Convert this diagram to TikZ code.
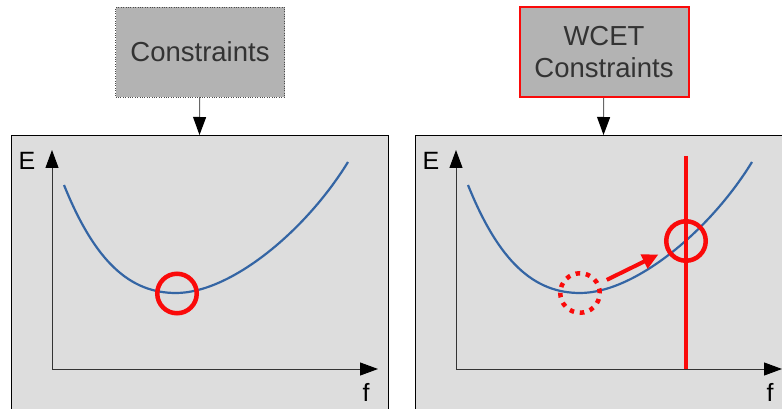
\documentclass[tikz,border=0pt]{standalone}
\usepackage{fontspec}
\setmainfont{Liberation Sans}
\usetikzlibrary{arrows.meta,positioning}

\begin{document}
\begin{tikzpicture}[x=1pt,y=-1pt,
    box/.style={fill=boxfill,minimum width=169pt,minimum height=90pt,align=center,text=boxtext,font=\fontsize{27.5}{32}\selectfont,inner sep=0pt},
    panel/.style={draw=black,fill=panelfill,minimum width=377pt,minimum height=300pt,anchor=north,inner sep=0pt},
    feed/.style={draw=black!60,line width=1pt,-{Triangle[length=18pt,width=13pt,color=black]}},
    axis/.style={draw=black!80,line width=1pt,-{Triangle[length=18pt,width=13pt,color=black]}},
    curve/.style={draw=curveblue,line width=2.2pt},
    hit/.style={draw=hitred,line width=4.5pt},
    optc/.style={circle,hit,minimum size=39.5pt,inner sep=0pt,outer sep=0pt},
    lbl/.style={font=\fontsize{25}{25}\selectfont,inner sep=0pt},
]
\definecolor{boxfill}{RGB}{179,179,179}  \definecolor{boxtext}{RGB}{51,51,51}
\definecolor{panelfill}{RGB}{221,221,221}
\definecolor{curveblue}{RGB}{52,101,164}
\definecolor{hitred}{RGB}{250,10,10}

\useasboundingbox (0,0) rectangle (782,409);
\clip (0,0) rectangle (782,409);

% ================= constraint boxes =================
\node[box,draw=black!70,dotted] (constr) at (200,52) {Constraints};
\node[box,draw=hitred,line width=2pt] (wcet) at (604,52) {WCET\\Constraints};

% ================= plot panels =================
\node[panel] (panelL) at (199.5,135) {};
\node[panel] (panelR) at (603.5,135) {};
\draw[feed] (constr) -- (panelL.north);
\draw[feed] (wcet) -- (panelR.north);

% ================= axes and energy curve, once per panel =================
\foreach \p/\dx in {L/0,R/404}{
  \coordinate (o\p) at (52+\dx,369);
  \coordinate (e\p) at (52+\dx,150);
  \coordinate (f\p) at (378+\dx,369);
  \draw[axis] (o\p) -- (e\p);
  \draw[axis] (o\p) -- (f\p);
  \node[lbl] (lblE\p) at (27+\dx,161) {E};
  \node[lbl] (lblF\p) at (366+\dx,392) {f};
  \draw[curve] (64+\dx,185) .. controls (95+\dx,262) and (130+\dx,293) .. (176+\dx,293)
    .. controls (230+\dx,293) and (305+\dx,232) .. (348+\dx,162);
}

% ================= optimum points =================
\node[optc] (optL) at (177,293.5) {};
\node[optc,dash pattern=on 4.5pt off 5.8pt] (optR) at (580,293) {};

% ================= WCET bound moves the optimum =================
\coordinate (wcetTop) at (686,156);
\coordinate (wcetBot) at (686,369);
\draw[hit,line width=3.5pt] (wcetTop) -- (wcetBot);
\node[optc] (newOpt) at (686,241) {};
\draw[hit,line width=4pt,-{Triangle[length=16pt,width=15pt]},shorten <=10pt,shorten >=11pt] (optR) -- (newOpt);

\end{tikzpicture}
\end{document}
